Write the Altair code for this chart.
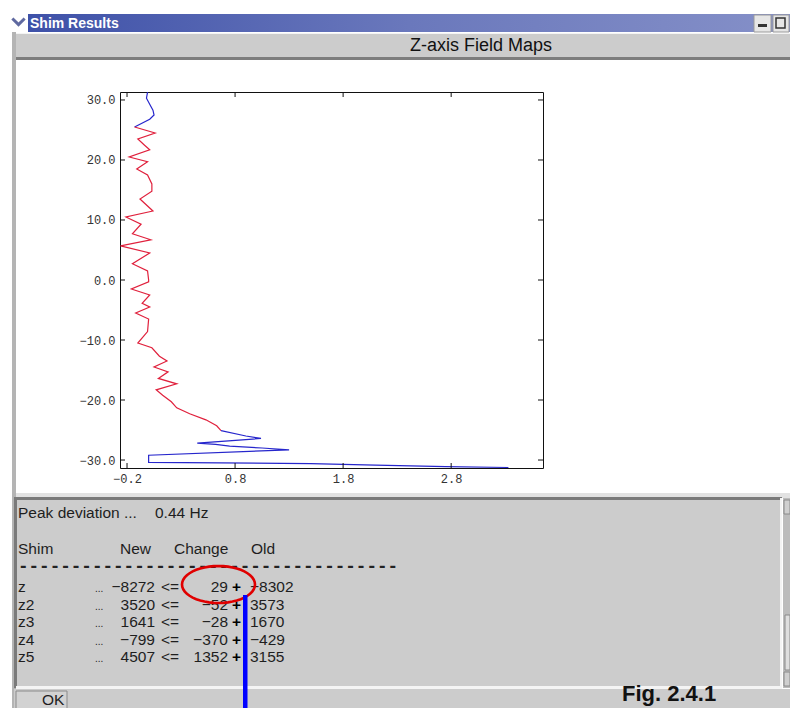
import math
import altair as alt
import pandas as pd

# ---------------- data ----------------
top_blue_x = [-0.01, -0.02, 0.01, 0.04, 0.05, 0.01, -0.13]
top_blue_z = [31.3, 30.3, 29.3, 28.3, 27.5, 26.8, 25.5]

red_x = [-0.13, 0.06, -0.10, -0.04, 0.01, -0.18, -0.01, -0.11, -0.01, 0.03,
         0.03, -0.08, 0.04, -0.21, -0.07, -0.15, 0.02, -0.26, 0.01, -0.15,
         -0.01, 0.0, 0.0, -0.16, 0.01, -0.06, 0.01, -0.12, 0.0, -0.01,
         -0.10, 0.03, 0.10, 0.17, 0.05, 0.18, 0.09, 0.26, 0.07, 0.13,
         0.21, 0.26, 0.38, 0.53, 0.63, 0.67]
red_z = [25.5, 24.5, 23.5, 22.5, 21.7, 20.5, 19.7, 18.5, 17.5, 16.0,
         14.8, 13.5, 11.5, 10.5, 9.3, 7.7, 6.7, 5.7, 4.5, 2.7,
         1.5, 0.0, -0.3, -1.5, -2.5, -3.9, -4.5, -5.5, -6.5, -8.6,
         -10.5, -11.3, -12.7, -13.5, -14.5, -15.3, -16.4, -17.3, -18.3, -19.2,
         -20.3, -21.3, -22.3, -23.3, -24.3, -25.1]

bottom_blue_x = [0.67, 0.90, 1.04, 0.74, 0.45, 0.62, 0.75, 1.05, 1.30, 0.0,
                 0.0, 1.5, 2.1, 2.75, 3.33]
bottom_blue_z = [-25.1, -26.0, -26.4, -26.8, -27.2, -27.4, -27.7, -28.0, -28.3, -29.2,
                 -30.4, -30.6, -30.85, -31.1, -31.25]

x_tick_values = [-0.2, 0.8, 1.8, 2.8]
z_tick_values = [-30.0, -20.0, -10.0, 0.0, 10.0, 20.0, 30.0]

shim_names = ["z", "z2", "z3", "z4", "z5"]
shim_new = [-8272, 3520, 1641, -799, 4507]
shim_change = [29, -52, -28, -370, 1352]
shim_old = [-8302, 3573, 1670, -429, 3155]
peak_deviation = 0.44

window_title = "Shim Results"
panel_title = "Z-axis Field Maps"
table_headers = ["Shim", "New", "Change", "Old"]
figure_label = "Fig. 2.4.1"
button_label = "OK"

# ---------------- layout / style ----------------
OX, OY = 120, 92          # page position of plot origin
W, H = 423, 376           # plot area
TOTAL_W, TOTAL_H = 782, 700
BLUE = "#2626cc"
RED = "#e0203c"
GRAY = "#cccccc"
SANS = "Liberation Sans"
MONO = "Liberation Mono"
RIGHT = 8 + TOTAL_W       # page x of the canvas' right edge

one = pd.DataFrame({"k": [0]})


def rect(x0, y0, x1, y1, fill, **kw):
    return alt.Chart(one).mark_rect(fill=fill, **kw).encode(
        x=alt.value(x0 - OX), x2=alt.value(x1 - OX),
        y=alt.value(y0 - OY), y2=alt.value(y1 - OY))


def label(x, y, s, size=15.5, align="left", weight="normal", font=SANS,
          color="#1e1e1e", baseline="middle"):
    return alt.Chart(one).mark_text(
        text=s, fontSize=size, align=align, fontWeight=weight, font=font,
        color=color, baseline=baseline).encode(
        x=alt.value(x - OX), y=alt.value(y - OY))


def fmt(v):
    return str(v).replace("-", "\u2212")


xs = alt.Scale(domain=[-0.265, 3.65], nice=False, zero=False)
zs = alt.Scale(domain=[-31.33, 31.33], nice=False, zero=False)


def X():
    return alt.X("x:Q", scale=xs, axis=alt.Axis(
        values=x_tick_values, format=".1f", title=None, grid=False,
        domain=False, ticks=False, tickSize=0, labelPadding=5,
        labelFont=MONO, labelFontSize=12, labelColor="#333",
        labelFlush=False, labelOverlap=False))


def Y():
    return alt.Y("z:Q", scale=zs, axis=alt.Axis(
        values=z_tick_values, format=".1f", title=None, grid=False,
        domain=False, ticks=False, tickSize=0, labelPadding=5,
        labelFont=MONO, labelFontSize=12, labelColor="#333",
        labelFlush=False, labelOverlap=False))


layers = []

# ---- window chrome ----
layers.append(rect(28, 14, RIGHT, 32, alt.LinearGradient(
    gradient="linear", x1=0, x2=1, y1=0, y2=0,
    stops=[alt.GradientStop(color="#3e51a8", offset=0),
           alt.GradientStop(color="#6a78bc", offset=0.5),
           alt.GradientStop(color="#8590c8", offset=1)])))
layers.append(alt.Chart(one).mark_point(
    shape="M-1,-0.5L0,0.5L1,-0.5", filled=False, stroke="#1c2a78",
    strokeWidth=3, size=150).encode(x=alt.value(18.5 - OX), y=alt.value(21.5 - OY)))
layers.append(label(30, 23.5, window_title, size=14, weight="bold", color="white"))
# window buttons
layers.append(rect(754, 15, 771, 32, "#e6e6e6", stroke="#9a9a9a", strokeWidth=1))
layers.append(rect(758, 24, 767, 27, "#333333"))
layers.append(rect(773, 15, 789, 32, "#e6e6e6", stroke="#9a9a9a", strokeWidth=1))
layers.append(rect(776, 18, 785, 28, "#e6e6e6", stroke="#333333", strokeWidth=1.5))

# left window border
layers.append(rect(12, 32, 16, 730, "#b4b4b4"))
# header bar
layers.append(rect(16, 33, RIGHT, 60, GRAY))
layers.append(rect(16, 33, RIGHT, 34, "#f4f4f4"))
layers.append(rect(16, 57, RIGHT, 60, "#7d7d7d"))
layers.append(label(410, 46, panel_title, size=18, color="#111111"))

# strip between plot and text panel
layers.append(rect(16, 493, RIGHT, 498, "#e2e2e2"))
# text panel
layers.append(rect(16, 498, 782, 688, GRAY))
layers.append(rect(16, 497, 782, 500, "#7a7a7a"))
layers.append(rect(14, 497, 17, 688, "#7a7a7a"))
layers.append(rect(16, 686, 782, 689, "#f4f4f4"))
layers.append(rect(780, 498, 782, 689, "#f4f4f4"))
# scrollbar
layers.append(rect(783, 498, RIGHT, 688, "#bcbcbc"))
layers.append(rect(784, 500, RIGHT, 514, "#cfcfcf", stroke="#8a8a8a", strokeWidth=1))
layers.append(rect(785, 615, RIGHT, 670, "#dedede", stroke="#8a8a8a", strokeWidth=1))
layers.append(rect(784, 672, RIGHT, 686, "#cfcfcf", stroke="#8a8a8a", strokeWidth=1))
# bottom bar
layers.append(rect(14, 689, RIGHT, 730, GRAY))
layers.append(rect(16, 691, 67, 730, "#d2d2d2", stroke="#8a8a8a", strokeWidth=1))
layers.append(label(42, 700, button_label, size=15.5))
layers.append(label(622, 701, figure_label, size=22, weight="bold",
                    font=SANS, color="#111111", baseline="alphabetic"))

# ---- text panel contents ----
layers.append(label(18, 513, "Peak deviation ..."))
layers.append(label(155, 513, f"{peak_deviation:.2f} Hz"))
for hx, h in zip([18, 120, 174, 251], table_headers):
    layers.append(label(hx, 549, h))
layers.append(label(18, 567, "-" * 36, size=17.6, font=MONO, weight="bold",
                    color="#222222"))
row_y0, row_dy = 587, 17.6
for r, (nm, nw, ch, od) in enumerate(zip(shim_names, shim_new, shim_change, shim_old)):
    yy = row_y0 + r * row_dy
    layers.append(label(18, yy, nm))
    layers.append(label(95, yy + 2, "...", size=10))
    layers.append(label(155, yy, fmt(nw), align="right"))
    layers.append(label(161, yy, "<="))
    layers.append(label(228, yy, fmt(ch), align="right"))
    layers.append(label(232, yy, "+", weight="bold", color="#000000"))
    layers.append(label(250, yy, fmt(od)))

# ---- the field map plot ----
rows = []
i = 0
for seg, xv, zv in [("top", top_blue_x, top_blue_z), ("mid", red_x, red_z),
                    ("bot", bottom_blue_x, bottom_blue_z)]:
    for a, b in zip(xv, zv):
        rows.append({"x": a, "z": b, "seg": seg, "i": i})
        i += 1
line_df = pd.DataFrame(rows)

layers.append(alt.Chart(line_df).mark_line(strokeWidth=1.2).encode(
    x=X(), y=Y(),
    color=alt.Color("seg:N", scale=alt.Scale(domain=["top", "mid", "bot"],
                                             range=[BLUE, RED, BLUE]), legend=None),
    order=alt.Order("i:Q")))

xt_df = pd.DataFrame({"x": x_tick_values})
zt_df = pd.DataFrame({"z": z_tick_values})
layers.append(alt.Chart(xt_df).mark_rule(color="#111", strokeWidth=1).encode(
    x=X(), y=alt.value(H), y2=alt.value(H - 5)))
layers.append(alt.Chart(xt_df).mark_rule(color="#111", strokeWidth=1).encode(
    x=X(), y=alt.value(0), y2=alt.value(5)))
layers.append(alt.Chart(zt_df).mark_rule(color="#111", strokeWidth=1).encode(
    y=Y(), x=alt.value(0), x2=alt.value(5)))
layers.append(alt.Chart(zt_df).mark_rule(color="#111", strokeWidth=1).encode(
    y=Y(), x=alt.value(W), x2=alt.value(W - 5)))

# ---- annotations ----
rx, ry = 36.5, 18.5
pts = []
for k in range(48):
    t = 2 * math.pi * k / 48
    pts.append(f"{math.cos(t):.4f},{(ry / rx) * math.sin(t):.4f}")
ellipse_path = "M" + "L".join(pts) + "Z"
layers.append(alt.Chart(one).mark_point(
    shape=ellipse_path, filled=False, stroke="#e00000", strokeWidth=2.6,
    size=(2 * rx) ** 2, opacity=1).encode(
    x=alt.value(218.5 - OX), y=alt.value(584.5 - OY)))
layers.append(rect(243, 595, 247.5, 730, "#0000ff"))

chart = alt.layer(*layers).properties(
    width=W, height=H,
    padding={"left": OX - 8, "top": OY - 8,
             "right": TOTAL_W - (OX - 8) - W, "bottom": TOTAL_H - (OY - 8) - H},
    autosize=alt.AutoSizeParams(type="none"),
    background="white",
).configure_view(stroke="#111111", strokeWidth=1)

chart.save("out.html", embed_options={"renderer": "svg", "actions": False})
